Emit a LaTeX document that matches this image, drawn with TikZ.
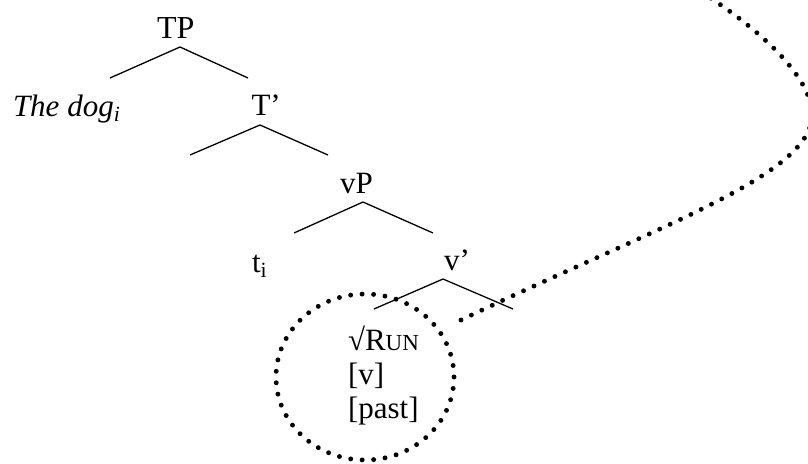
\documentclass[tikz,border=0pt]{standalone}
\usepackage{fontspec}
\setmainfont{Liberation Serif}
\begin{document}
\begin{tikzpicture}[x=1pt,y=-1pt,
  lbl/.style={anchor=base west,inner sep=0pt,outer sep=0pt,font=\fontsize{31}{36}\selectfont},
  branch/.style={line width=1.3pt,line join=miter},
  dots/.style={line width=4.9pt,line cap=round,dash pattern=on 0pt off 11.5pt}]
\useasboundingbox (0,0) rectangle (808,463);
\clip (0,0) rectangle (808,463);
% labels
\node[lbl] (tp) at (157,38) {\fontsize{32}{36}\selectfont TP};
\node[lbl] (dog) at (13,116) {\itshape The dog\textsubscript{i}};
\node[lbl] (tbar) at (251.5,115) {T’};
\node[lbl] (vp) at (340,193) {vP};
\node[lbl] (ti) at (252,272) {t\textsubscript{i}};
\node[lbl] (vbar) at (444,270) {v’};
\node[lbl] (run) at (348,350) {√R{\fontsize{23}{27}\selectfont UN}};
\node[lbl] (feat) at (348,384) {[v]};
\node[lbl] (past) at (348,418) {[past]};
% branch points
\coordinate (tpA) at (180,47);   \coordinate (tpL) at (110,78);  \coordinate (tpR) at (248,78);
\coordinate (tbA) at (260,125);  \coordinate (tbL) at (190,155); \coordinate (tbR) at (328,155);
\coordinate (vpA) at (363,202);  \coordinate (vpL) at (294,233); \coordinate (vpR) at (433,233);
\coordinate (vbA) at (443,279);  \coordinate (vbL) at (374,309); \coordinate (vbR) at (513,309);
\draw[branch] (tpL) -- (tpA) -- (tpR);
\draw[branch] (tbL) -- (tbA) -- (tbR);
\draw[branch] (vpL) -- (vpA) -- (vpR);
\draw[branch] (vbL) -- (vbA) -- (vbR);
% dotted circle around the terminal
\coordinate (circC) at (365,377);
\draw[dots] (circC) ellipse [x radius=89, y radius=83];
% long dotted curve
\coordinate (cS) at (461,320);
\coordinate (cM) at (812,115);
\coordinate (cE) at (690,-15);
\draw[dots] (cS) .. controls (660,225) and (812,175) .. (cM)
            .. controls (812,70) and (740,15) .. (cE);
\end{tikzpicture}
\end{document}
